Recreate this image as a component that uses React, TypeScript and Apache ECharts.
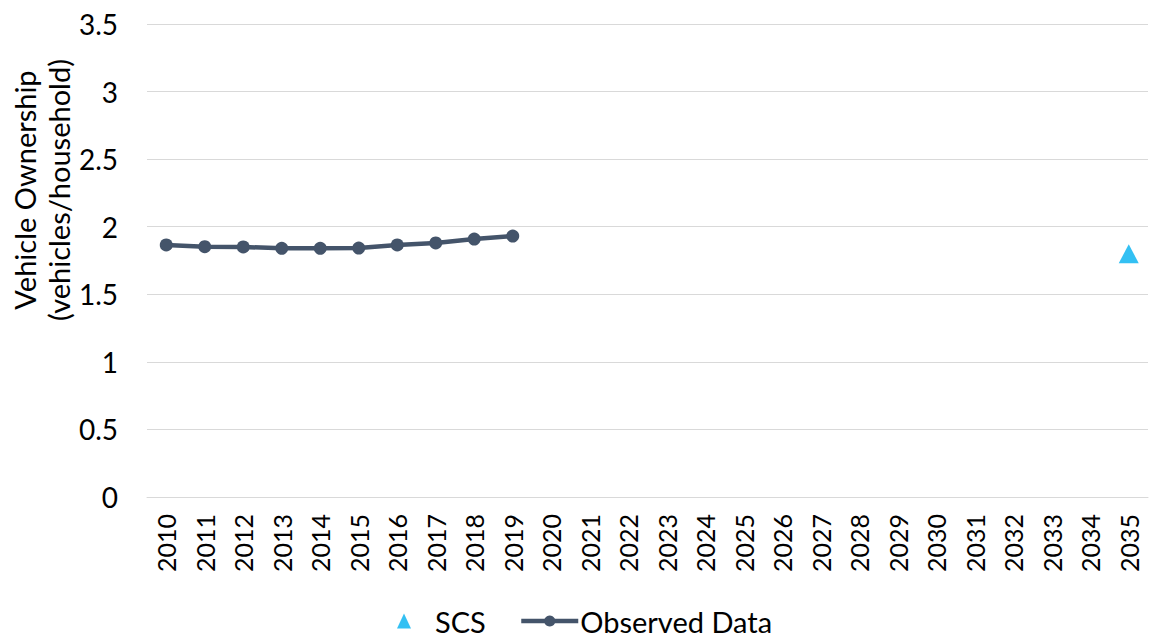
import React, { useEffect, useRef } from "react";
import * as echarts from "echarts";

const years = [
  "2010", "2011", "2012", "2013", "2014", "2015", "2016", "2017", "2018", "2019",
  "2020", "2021", "2022", "2023", "2024", "2025", "2026", "2027", "2028", "2029",
  "2030", "2031", "2032", "2033", "2034", "2035",
];
const observed = [1.865, 1.852, 1.85, 1.84, 1.84, 1.842, 1.865, 1.88, 1.909, 1.931];
const scsYear = "2035";
const scsValue = 1.8;
const yTitle = ["Vehicle Ownership", "(vehicles/household)"];

const FONT = "Lato, 'Open Sans', sans-serif";

export default function App() {
  const ref = useRef<HTMLDivElement>(null);
  useEffect(() => {
    if (!ref.current) return;
    const chart = echarts.init(ref.current, undefined, { renderer: "svg" });
    const observedData = years.map((y, i) => (i < observed.length ? observed[i] : null));
    const scsData = years.map((y) => (y === scsYear ? scsValue : null));
    chart.setOption({
      animation: false,
      textStyle: { fontFamily: FONT },
      grid: { left: 147, right: 1, top: 24, bottom: 142, containLabel: false },
      xAxis: {
        type: "category",
        data: years,
        boundaryGap: true,
        axisLine: { show: true, lineStyle: { color: "#d9d9d9", width: 1 } },
        axisTick: { show: false },
        axisLabel: {
          rotate: 90,
          fontSize: 25,
          color: "#000",
          margin: 17,
          fontFamily: FONT,
          interval: 0,
        },
      },
      yAxis: {
        type: "value",
        min: 0,
        max: 3.5,
        interval: 0.5,
        axisLine: { show: false },
        axisTick: { show: false },
        splitLine: { lineStyle: { color: "#d9d9d9", width: 1 } },
        axisLabel: { fontSize: 28, color: "#000", margin: 29, fontFamily: FONT },
      },
      legend: [
        {
          data: [{ name: "SCS", icon: "triangle" }],
          left: 392,
          top: 603,
          padding: [3, 5, 3, 5],
          itemWidth: 14,
          itemHeight: 15,
          textStyle: {
            fontSize: 29,
            lineHeight: 30,
            color: "#000",
            fontFamily: FONT,
            padding: [0, 0, 0, 19],
          },
        },
        {
          data: ["Observed Data"],
          left: 514,
          top: 603,
          padding: [3, 5, 3, 5],
          itemWidth: 57,
          itemHeight: 14,
          lineStyle: { width: 4.5, color: "#44546a" },
          itemStyle: { color: "#44546a" },
          textStyle: {
            fontSize: 29,
            lineHeight: 30,
            color: "#000",
            fontFamily: FONT,
            padding: [0, 0, 0, -3],
          },
        },
      ],
      graphic: [
        {
          type: "text",
          x: 41,
          y: 190,
          rotation: Math.PI / 2,
          style: {
            text: yTitle.join("\n"),
            fontSize: 29,
            lineHeight: 34,
            fill: "#000",
            fontFamily: FONT,
            align: "center",
            verticalAlign: "middle",
          },
        },
      ],
      series: [
        {
          name: "SCS",
          type: "scatter",
          data: scsData,
          symbol: "triangle",
          symbolSize: [20, 19],
          itemStyle: { color: "#00b0f0" },
        },
        {
          name: "Observed Data",
          type: "line",
          data: observedData,
          symbol: "circle",
          symbolSize: 13,
          connectNulls: false,
          lineStyle: { color: "#44546a", width: 4.5 },
          itemStyle: { color: "#44546a" },
        },
      ],
    });
    return () => chart.dispose();
  }, []);
  return <div ref={ref} style={{ width: 1149, height: 639, position: "absolute", left: 0, top: 0 }} />;
}
